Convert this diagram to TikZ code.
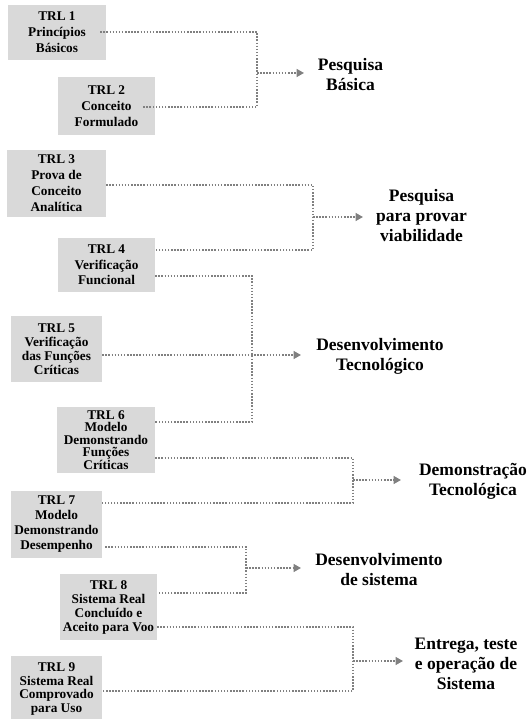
\documentclass[tikz,border=0pt]{standalone}
\usepackage{fontspec}
\setmainfont{Liberation Serif}
\usetikzlibrary{arrows.meta}
\definecolor{boxgray}{HTML}{D9D9D9}
\definecolor{linegray}{HTML}{808080}
\begin{document}
\begin{tikzpicture}[x=1pt,y=1pt,
  trl/.style={fill=boxgray, align=center, inner sep=0pt, font=\bfseries\fontsize{13.3}{#1}\selectfont},
  lbl/.style={align=center, inner sep=0pt, font=\bfseries\fontsize{17.5}{20}\selectfont},
  conn/.style={draw=linegray, line width=1.6pt, dash pattern=on 1.5pt off 1.6pt},
  arr/.style={conn, -{Triangle[length=7.5pt,width=8pt,fill=linegray]}}]
\clip (0,0) rectangle (528,719);
\fill[white] (0,0) rectangle (528,719);
% boxes
\node[trl=16, minimum width=98, minimum height=55] (t1) at (57,686.5) {TRL 1\\Princípios\\Básicos};
\node[trl=16, minimum width=97, minimum height=58] (t2) at (106.5,613) {TRL 2\\Conceito\\Formulado};
\node[trl=16, minimum width=99, minimum height=67] (t3) at (56.5,535.5) {TRL 3\\Prova de\\Conceito\\Analítica};
\node[trl=15.5, minimum width=97, minimum height=54] (t4) at (106.5,454) {TRL 4\\Verificação\\Funcional};
\node[trl=14, minimum width=91, minimum height=66] (t5) at (56.5,370) {TRL 5\\Verificação\\das Funções\\Críticas};
\node[trl=12.5, minimum width=98, minimum height=66] (t6) at (106,279) {TRL 6\\Modelo\\Demonstrando\\Funções\\Críticas};
\node[trl=15, minimum width=91, minimum height=67] (t7) at (56.5,194.5) {TRL 7\\Modelo\\Demonstrando\\Desempenho};
\node[trl=14, minimum width=97, minimum height=66] (t8) at (108.5,112) {TRL 8\\Sistema Real\\Concluído e\\Aceito para Voo};
\node[trl=13.5, minimum width=91, minimum height=66] (t9) at (56.5,30) {TRL 9\\Sistema Real\\Comprovado\\para Uso};
% labels
\node[lbl] (l1) at (350.5,644.5) {Pesquisa\\Básica};
\node[lbl] (l2) at (421.5,503) {Pesquisa\\para provar\\viabilidade};
\node[lbl] (l3) at (380,363) {Desenvolvimento\\Tecnológico};
\node[lbl] (l4) at (473,237.5) {Demonstração\\Tecnológica};
\node[lbl] (l5) at (379,149) {Desenvolvimento\\de sistema};
\node[lbl] (l6) at (466,55) {Entrega, teste\\e operação de\\Sistema};
% junctions and arrow tips
\coordinate (j1) at (257,646); \coordinate (a1) at (304,646);
\coordinate (j2) at (313,502); \coordinate (a2) at (363,502);
\coordinate (j3) at (252,364); \coordinate (a3) at (301,364);
\coordinate (j4) at (353,239); \coordinate (a4) at (401,239);
\coordinate (j5) at (246,151); \coordinate (a5) at (301,151);
\coordinate (j6) at (353,58);  \coordinate (a6) at (403,58);
% connectors
\draw[conn] ([xshift=-6pt,yshift=0.5pt]t1.east) -| (j1) |- ([xshift=-13pt,yshift=-1pt]t2.east);
\draw[arr] (j1) -- (a1);
\draw[conn] ([yshift=-1.5pt]t3.east) -| (j2) |- ([yshift=15pt]t4.east);
\draw[arr] (j2) -- (a2);
\draw[conn] ([yshift=-11pt]t4.east) -| (j3) |- ([yshift=18pt]t6.east);
\draw[arr] ([yshift=-6pt]t5.east) -- (a3);
\draw[conn] ([yshift=-18pt]t6.east) -| (j4) |- ([yshift=21.5pt]t7.east);
\draw[arr] (j4) -- (a4);
\draw[conn] ([xshift=3pt,yshift=-22.5pt]t7.east) -| (j5) |- ([yshift=14pt]t8.east);
\draw[arr] (j5) -- (a5);
\draw[conn] ([yshift=-20pt]t8.east) -| (j6) |- ([yshift=-2pt]t9.east);
\draw[arr] (j6) -- (a6);
\end{tikzpicture}
\end{document}
